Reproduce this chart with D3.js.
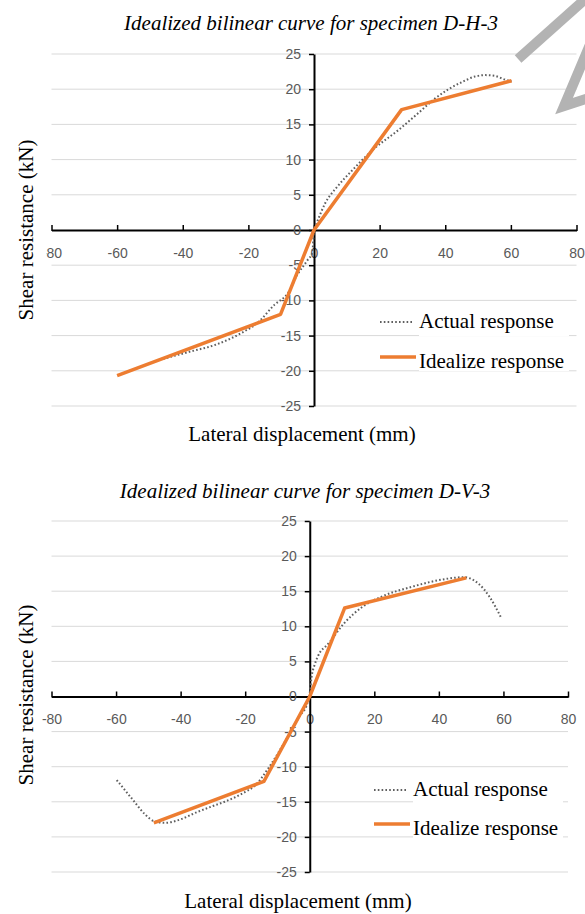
<!DOCTYPE html>
<html>
<head>
<meta charset="utf-8">
<script src="https://cdn.jsdelivr.net/npm/d3@7"></script>
<style>
  body { margin: 0; background: #fff; }
  svg { display: block; }
</style>
</head>
<body>
<div id="chart"></div>
<script>
// tick values shared by both panels
const xTicks = [-80, -60, -40, -20, 0, 20, 40, 60, 80];
const yTicks = [-25, -20, -15, -10, -5, 0, 5, 10, 15, 20, 25];
const legendLabels = ["Actual response", "Idealize response"];
const titles = ["Idealized bilinear curve for specimen D-H-3", "Idealized bilinear curve for specimen D-V-3"];
const xLabel = "Lateral displacement (mm)";
const yLabel = "Shear resistance (kN)";

// D-H-3 (mm, kN)
const dh3Actual = [[-46, -18.3], [-38, -17.3], [-30, -16.3], [-22, -14.6], [-17, -13.1], [-12, -10.6],
  [-8, -9.0], [-5, -6.3], [-2, -4.3], [-0.5, -3.2], [0, 0], [1, 1.2], [3.4, 3.8], [7, 6.1], [11.3, 8.3],
  [18.2, 11.5], [26, 14.3], [32, 16.7], [36.4, 18.5], [41, 20.0], [45.5, 21.1], [49, 21.8],
  [52.3, 22.0], [55, 21.9], [58, 21.4], [60.2, 21.1]];
const dh3Ideal = [[-60, -20.7], [-10.2, -12.0], [0, 0], [26.7, 17.1], [60.2, 21.2]];

// D-V-3 (mm, kN)
const dv3Actual = [[-59.8, -11.9], [-55, -14.6], [-51, -16.8], [-48, -17.8], [-45, -18.0], [-40, -17.5],
  [-35.6, -16.6], [-30, -15.6], [-26.4, -15.0], [-20, -13.6], [-17.2, -12.8], [-12.5, -10.0],
  [-7.9, -6.6], [-3.3, -2.9], [-0.7, -0.9], [0, 0.5], [0.5, 2.6], [1.5, 4.5], [2.5, 5.7], [5.9, 7.6],
  [10.6, 10.4], [16.4, 12.8], [22.1, 14.2], [31.4, 15.6], [43, 16.8], [47.6, 17.0], [52.2, 16.1],
  [55.7, 14.2], [59.2, 11.3]];
const dv3Ideal = [[-48.3, -18.0], [-14.2, -12.1], [0, 0], [10.8, 12.6], [48.5, 16.9]];

// grey arrow watermark in the first panel (data units)
const arrowBand = [[62.2, 24.3], [84.1, 33.4]];
const arrowHead = [[84.7, 27.0], [76.2, 17.6], [84.7, 18.9]];

const width = 585, height = 914;
const svg = d3.select("#chart").append("svg")
  .attr("width", width)
  .attr("height", height);

function drawPanel(p) {
  const x = d3.scaleLinear().domain([-80, 80]).range([p.left, p.right]);
  const y = d3.scaleLinear().domain([-25, 25]).range([p.bottom, p.top]);
  const g = svg.append("g");

  // gridlines
  g.selectAll(".grid")
    .data(yTicks.filter(d => d !== 0))
    .enter()
    .append("line")
    .attr("x1", p.left).attr("x2", p.right)
    .attr("y1", d => y(d)).attr("y2", d => y(d))
    .attr("stroke", "#d9d9d9")
    .attr("stroke-width", 1);

  // x axis, ticks above the line and labels below
  const xAxisG = g.append("g")
    .attr("transform", `translate(0,${y(0)})`)
    .call(d3.axisBottom(x).tickValues(xTicks).tickFormat(d => String(d))
      .tickSize(-5).tickSizeOuter(0).tickPadding(18));
  xAxisG.select(".domain").attr("stroke", "#000").attr("stroke-width", 2);
  xAxisG.selectAll(".tick line").attr("stroke", "#000").attr("stroke-width", 1.5).attr("y1", 1);
  xAxisG.selectAll(".tick text")
    .attr("fill", "#595959").attr("font-family", "Liberation Sans, Arial, sans-serif").attr("font-size", 14);
  if (p.clipLeft) {
    // the left-most label is cut in the source figure
    const id = "clipx" + p.id;
    svg.append("clipPath").attr("id", id).append("rect")
      .attr("x", p.clipLeft).attr("y", -20).attr("width", width).attr("height", 60);
    xAxisG.attr("clip-path", `url(#${id})`);
  }

  // y axis
  const yAxisG = g.append("g")
    .attr("transform", `translate(${x(0)},0)`)
    .call(d3.axisLeft(y).tickValues(yTicks).tickFormat(d => String(d))
      .tickSize(5).tickSizeOuter(0).tickPadding(8));
  yAxisG.select(".domain").attr("stroke", "#000").attr("stroke-width", 2);
  yAxisG.selectAll(".tick line").attr("stroke", "#000").attr("stroke-width", 1.5);
  yAxisG.selectAll(".tick text")
    .attr("fill", "#595959").attr("font-family", "Liberation Sans, Arial, sans-serif").attr("font-size", 14);

  const line = d3.line().x(d => x(d[0])).y(d => y(d[1]));

  g.append("path")
    .datum(p.actual)
    .attr("d", line.curve(d3.curveMonotoneX))
    .attr("fill", "none")
    .attr("stroke", "#5f5f5f")
    .attr("stroke-width", 2)
    .attr("stroke-dasharray", "1.6 2.2");

  g.append("path")
    .datum(p.ideal)
    .attr("d", d3.line().x(d => x(d[0])).y(d => y(d[1])))
    .attr("fill", "none")
    .attr("stroke", "#ed7d31")
    .attr("stroke-width", 3.5)
    .attr("stroke-linejoin", "round");

  // legend
  const leg = g.append("g");
  leg.append("line")
    .attr("x1", p.legX).attr("x2", p.legX + 34)
    .attr("y1", p.legY1).attr("y2", p.legY1)
    .attr("stroke", "#5f5f5f").attr("stroke-width", 2).attr("stroke-dasharray", "1.6 2.2");
  leg.append("line")
    .attr("x1", p.legX).attr("x2", p.legX + 36)
    .attr("y1", p.legY2).attr("y2", p.legY2)
    .attr("stroke", "#ed7d31").attr("stroke-width", 3.5);
  [p.legY1, p.legY2].forEach((ly, i) => {
    leg.append("rect")
      .attr("x", p.legX + 39).attr("y", ly - 10)
      .attr("width", 150).attr("height", 24)
      .attr("fill", "#fff");
    leg.append("text")
      .attr("x", p.legX + 39).attr("y", ly + (i === 0 ? 6 : 11))
      .attr("font-family", "Liberation Serif, Times New Roman, serif")
      .attr("font-size", 21)
      .attr("fill", "#000")
      .text(legendLabels[i]);
  });

  // titles and axis labels
  g.append("text")
    .attr("x", p.titleX).attr("y", p.titleY)
    .attr("text-anchor", "middle")
    .attr("font-family", "Liberation Serif, Times New Roman, serif")
    .attr("font-style", "italic")
    .attr("font-size", 21)
    .text(p.title);

  g.append("text")
    .attr("transform", `translate(33,${p.yLabelY}) rotate(-90)`)
    .attr("text-anchor", "middle")
    .attr("font-family", "Liberation Serif, Times New Roman, serif")
    .attr("font-size", 21)
    .text(yLabel);

  g.append("text")
    .attr("x", p.xLabelX).attr("y", p.xLabelY)
    .attr("text-anchor", "middle")
    .attr("font-family", "Liberation Serif, Times New Roman, serif")
    .attr("font-size", 21)
    .text(xLabel);

  return { x, y, g };
}

const p1 = drawPanel({
  id: 1, left: 51.5, right: 576.5, top: 54, bottom: 406,
  actual: dh3Actual, ideal: dh3Ideal, title: titles[0],
  titleX: 311, titleY: 30, yLabelY: 230, xLabelX: 302, xLabelY: 441,
  legX: 380, legY1: 322, legY2: 357, clipLeft: 46
});

drawPanel({
  id: 2, left: 51.5, right: 568, top: 521, bottom: 872,
  actual: dv3Actual, ideal: dv3Ideal, title: titles[1],
  titleX: 305, titleY: 498, yLabelY: 695, xLabelX: 298, xLabelY: 908,
  legX: 374, legY1: 790, legY2: 824
});

// grey arrow drawn over the first panel
const arrowLine = d3.line().x(d => p1.x(d[0])).y(d => p1.y(d[1]));
p1.g.append("path").attr("d", arrowLine(arrowBand))
  .attr("fill", "none").attr("stroke", "#b3b3b3").attr("stroke-width", 10);
p1.g.append("path").attr("d", arrowLine(arrowHead))
  .attr("fill", "none").attr("stroke", "#b3b3b3").attr("stroke-width", 10)
  .attr("stroke-linejoin", "miter");
</script>
</body>
</html>
